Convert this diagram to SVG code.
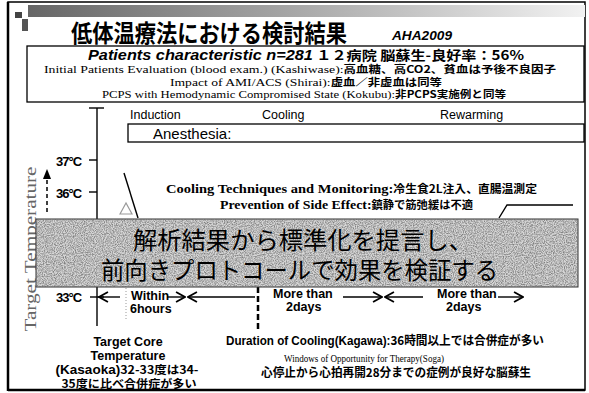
<svg xmlns="http://www.w3.org/2000/svg" width="589" height="393" viewBox="0 0 589 393">
<defs>
<linearGradient id="bar" x1="0" y1="0" x2="1" y2="0">
<stop offset="0" stop-color="#666"/>
<stop offset="0.5" stop-color="#aaa"/>
<stop offset="1" stop-color="#f2f2f2"/>
</linearGradient>
<filter id="noise" x="0" y="0" width="100%" height="100%">
<feTurbulence type="fractalNoise" baseFrequency="0.9" numOctaves="2" seed="3" result="t"/>
<feColorMatrix type="matrix" values="0 0 0 0 0  0 0 0 0 0  0 0 0 0 0  0 0 0 -2.2 1.45" in="t"/>
<feComposite in2="SourceGraphic" operator="in"/>
</filter>
<marker id="ah" viewBox="0 0 10 10" refX="9" refY="5" markerWidth="7" markerHeight="7" orient="auto-start-reverse">
<path d="M0,1 L10,5 L0,9 Z" fill="#000"/>
</marker>
<marker id="ao" viewBox="0 0 10 10" refX="9" refY="5" markerWidth="8" markerHeight="8" orient="auto-start-reverse">
<path d="M1,0.5 L9,5 L1,9.5" fill="none" stroke="#000" stroke-width="1.6"/>
</marker>
</defs>
<style>
.sans{font-family:"Liberation Sans","Noto Sans CJK JP",sans-serif;}
.jp{font-family:"Noto Sans CJK JP","Liberation Sans",sans-serif;font-weight:bold;}
.ser{font-family:"Liberation Serif","Noto Sans CJK JP",serif;}
.ln{stroke:#000;stroke-width:1.4;fill:none;}
</style>
<rect width="589" height="393" fill="#fff"/>
<rect x="8" y="2" width="577" height="388" fill="none" stroke="#000" stroke-width="1.5"/>
<line x1="8" y1="2" x2="8" y2="391" stroke="#000" stroke-width="2.5"/>
<line x1="8" y1="390" x2="585" y2="390" stroke="#000" stroke-width="2.5"/>
<g id="header">
<rect x="28" y="5" width="557" height="12" fill="url(#bar)"/>
<rect x="15" y="12" width="7" height="6" fill="#444"/>
<rect x="22" y="19" width="6" height="12" fill="#555"/>
<text x="71" y="42" class="jp" font-size="24" textLength="276" lengthAdjust="spacingAndGlyphs">低体温療法における検討結果</text>
<text x="392" y="40" class="sans" font-size="13" font-weight="bold" font-style="italic" textLength="60" lengthAdjust="spacingAndGlyphs">AHA2009</text>
</g>
<g id="patients">
<rect x="27" y="46" width="557" height="56" fill="#fff" stroke="#000" stroke-width="1.3"/>
<text x="88" y="60" class="sans" font-size="14" font-weight="bold" textLength="436" lengthAdjust="spacingAndGlyphs"><tspan font-style="italic">Patients characteristic   n=281</tspan><tspan class="jp" font-size="13">   １２病院  脳蘇生-良好率：56%</tspan></text>
<text x="44" y="73" class="ser" font-size="11" textLength="512" lengthAdjust="spacingAndGlyphs">Initial Patients Evaluation (blood exam.)  (Kashiwase):<tspan class="jp" font-size="10">高血糖、高CO2、貧血は予後不良因子</tspan></text>
<text x="170" y="85.5" class="ser" font-size="11" textLength="272" lengthAdjust="spacingAndGlyphs">Impact of AMI/ACS  (Shirai):<tspan class="jp" font-size="10">虚血／非虚血は同等</tspan></text>
<text x="102" y="98" class="ser" font-size="11" textLength="404" lengthAdjust="spacingAndGlyphs">PCPS with Hemodynamic Compromised State  (Kokubu):<tspan class="jp" font-size="10">非PCPS実施例と同等</tspan></text>
</g>
<g id="phases" class="sans" font-size="12.5">
<text x="130" y="119">Induction</text>
<text x="262" y="119">Cooling</text>
<text x="440" y="119">Rewarming</text>
</g>
<g id="anesthesia">
<rect x="128" y="124" width="456" height="18" fill="#fff" stroke="#000" stroke-width="1.3"/>
<text x="153" y="139" class="sans" font-size="15">Anesthesia:</text>
</g>
<g id="axis">
<text transform="translate(36,249) rotate(-90)" text-anchor="middle" class="ser" font-size="17" fill="#666" textLength="165" lengthAdjust="spacingAndGlyphs">Target Temperature</text>
<text x="56" y="166" class="sans" font-size="13" font-weight="bold" letter-spacing="-1">37°C</text>
<text x="56" y="198" class="sans" font-size="13" font-weight="bold" letter-spacing="-1">36°C</text>
<text x="56" y="302" class="sans" font-size="13" font-weight="bold" letter-spacing="-1">33°C</text>
</g>
<g id="cooling-notes">
<text x="166" y="193" class="ser" font-size="13.5" font-weight="bold" textLength="371" lengthAdjust="spacingAndGlyphs">Cooling Techniques and Monitoring:<tspan class="jp" font-size="11">冷生食2L注入、直腸温測定</tspan></text>
<text x="220" y="209" class="ser" font-size="13.5" font-weight="bold" textLength="253" lengthAdjust="spacingAndGlyphs">Prevention of Side Effect:<tspan class="jp" font-size="11">鎮静で筋弛緩は不適</tspan></text>
</g>
<g id="connectors">
<line class="ln" x1="89" y1="108" x2="104" y2="108"/>
<line class="ln" x1="97" y1="108" x2="97" y2="326"/>
<line class="ln" x1="89" y1="160" x2="97" y2="160"/>
<line class="ln" x1="89" y1="192" x2="97" y2="192"/>
<line class="ln" x1="90" y1="297" x2="104" y2="297"/>
<line x1="47" y1="212" x2="47" y2="170" stroke="#000" stroke-width="1.5" stroke-dasharray="4,3" marker-end="url(#ah)"/>
<line class="ln" x1="124" y1="173" x2="138" y2="218"/>
<polyline class="ln" points="499,218 507,205 573,205"/>
<polygon points="120,214 126,203 132,214" fill="none" stroke="#999" stroke-width="1.2"/>
<line class="ln" x1="120" y1="297" x2="99" y2="297" marker-end="url(#ao)"/>
<line x1="126" y1="288" x2="126" y2="320" stroke="#999" stroke-width="1" stroke-dasharray="1,2"/>
<line class="ln" x1="167" y1="297" x2="185" y2="297" marker-end="url(#ao)"/>
<line class="ln" x1="255" y1="297" x2="188" y2="297" marker-end="url(#ao)"/>
<line x1="258" y1="287" x2="258" y2="329" stroke="#000" stroke-width="2.5" stroke-dasharray="6,3"/>
<line class="ln" x1="343" y1="297" x2="382" y2="297" marker-end="url(#ao)"/>
<line class="ln" x1="423" y1="297" x2="385" y2="297" marker-end="url(#ao)"/>
<line class="ln" x1="498" y1="297" x2="523" y2="297" marker-end="url(#ao)"/>
</g>
<g id="overlay">
<rect x="36" y="219" width="542" height="68" fill="#d6d6d6" stroke="#333" stroke-width="1"/>
<rect x="36.5" y="219.5" width="541" height="67" fill="#000" filter="url(#noise)" opacity="0.4"/>
<text x="133" y="249" font-family="Noto Sans CJK JP, sans-serif" font-size="24" textLength="340" lengthAdjust="spacingAndGlyphs">解析結果から標準化を提言し、</text>
<text x="101" y="279" font-family="Noto Sans CJK JP, sans-serif" font-size="24" textLength="397" lengthAdjust="spacingAndGlyphs">前向きプロトコールで効果を検証する</text>
</g>
<g id="durations" class="sans" font-size="12.5" font-weight="bold">
<text x="131" y="300">Within</text>
<text x="130" y="313">6hours</text>
<text x="273" y="298">More than</text>
<text x="286" y="311">2days</text>
<text x="437" y="298">More than</text>
<text x="446" y="311">2days</text>
</g>
<g id="target-core" class="sans" font-size="12.5" font-weight="bold" text-anchor="middle">
<text x="128" y="346">Target Core</text>
<text x="128" y="360">Temperature</text>
<text x="127" y="373.5" textLength="143" lengthAdjust="spacingAndGlyphs">(Kasaoka)<tspan class="jp" font-size="11.5">32-33度は34-</tspan></text>
<text x="129" y="387.5" class="jp" font-size="11.5" textLength="135" lengthAdjust="spacingAndGlyphs">35度に比べ合併症が多い</text>
</g>
<g id="duration-note">
<text x="226" y="345" class="sans" font-size="12.5" font-weight="bold" textLength="318" lengthAdjust="spacingAndGlyphs">Duration of Cooling(Kagawa):<tspan class="jp">36時間以上では合併症が多い</tspan></text>
</g>
<g id="window-note">
<text x="284" y="362" class="ser" font-size="11" textLength="160" lengthAdjust="spacingAndGlyphs">Windows of Opportunity for Therapy(Soga)</text>
<text x="261" y="377" class="jp" font-size="12" textLength="270" lengthAdjust="spacingAndGlyphs">心停止から心拍再開28分までの症例が良好な脳蘇生</text>
</g>
</svg>
